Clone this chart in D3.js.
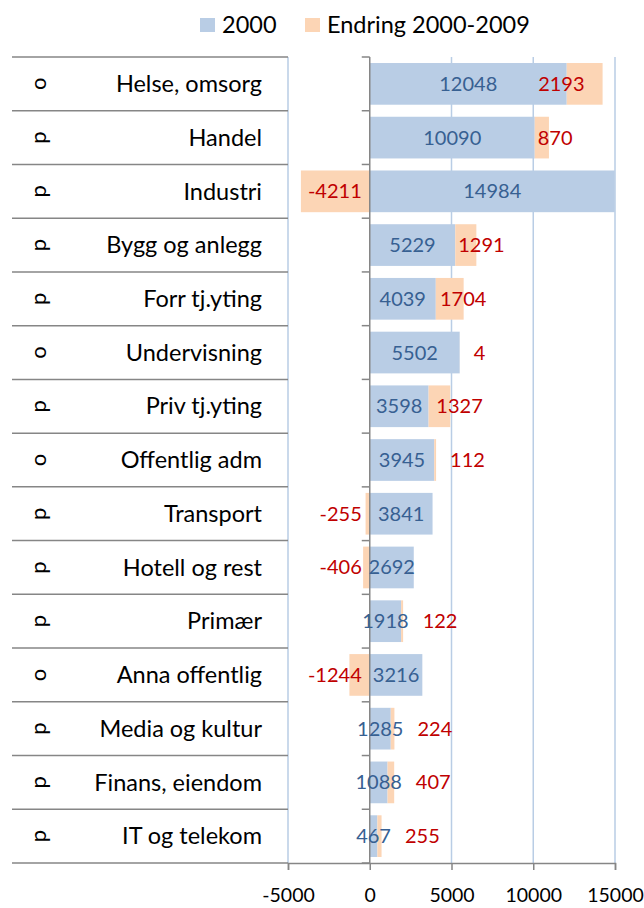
<!DOCTYPE html>
<html>
<head>
<meta charset="utf-8">
<script src="https://cdn.jsdelivr.net/npm/d3@7/dist/d3.min.js"></script>
<style>
  html, body { margin: 0; padding: 0; background: #fff; }
  svg { display: block; font-family: Lato, "Open Sans", sans-serif; }
</style>
</head>
<body>
<svg id="chart" width="644" height="908"></svg>
<script>
const categories = ["Helse, omsorg","Handel","Industri","Bygg og anlegg","Forr tj.yting","Undervisning","Priv tj.yting","Offentlig adm","Transport","Hotell og rest","Primær","Anna offentlig","Media og kultur","Finans, eiendom","IT og telekom"];
const sectors = ["o","p","p","p","p","o","p","o","p","p","p","o","p","p","p"];
const values2000 = [12048,10090,14984,5229,4039,5502,3598,3945,3841,2692,1918,3216,1285,1088,467];
const change = [2193,870,-4211,1291,1704,4,1327,112,-255,-406,122,-1244,224,407,255];
const xTicks = [-5000,0,5000,10000,15000];
const seriesNames = ["2000","Endring 2000-2009"];

const C_BLUE = "#b9cde5", C_ORANGE = "#fcd5b5", C_GRID = "#b9cde5", C_AXIS = "#868686";
const C_BLUE_TXT = "#376092", C_RED_TXT = "#c00000";

const svg = d3.select("#chart");
const plotTop = 57, plotBottom = 863, plotLeft = 288, plotRight = 615, tableLeft = 12;

const x = d3.scaleLinear().domain([-5000, 15000]).range([plotLeft, plotRight]);
const y = d3.scaleBand().domain(categories).range([plotTop, plotBottom]).paddingInner(0.224).paddingOuter(0.112);
const step = y.step();

// gridlines
svg.append("g").selectAll("line").data(xTicks.filter(d => d !== 0)).join("line")
  .attr("x1", d => x(d)).attr("x2", d => x(d))
  .attr("y1", plotTop).attr("y2", plotBottom)
  .attr("stroke", C_GRID).attr("stroke-width", 1.5);

const rows = categories.map((c, i) => ({c, s: sectors[i], v: values2000[i], d: change[i]}));

// bars
const bars = svg.append("g");
bars.selectAll("rect.b").data(rows).join("rect").attr("class", "b")
  .attr("x", d => x(0)).attr("width", d => x(d.v) - x(0))
  .attr("y", d => y(d.c)).attr("height", y.bandwidth()).attr("fill", C_BLUE);
bars.selectAll("rect.o").data(rows).join("rect").attr("class", "o")
  .attr("x", d => d.d >= 0 ? x(d.v) : x(d.d))
  .attr("width", d => d.d >= 0 ? x(d.v + d.d) - x(d.v) : x(0) - x(d.d))
  .attr("y", d => y(d.c)).attr("height", y.bandwidth()).attr("fill", C_ORANGE);

// zero axis + ticks
const boundaries = d3.range(categories.length + 1).map(i => plotTop + i * step);
svg.append("line").attr("x1", x(0)).attr("x2", x(0)).attr("y1", plotTop).attr("y2", plotBottom)
  .attr("stroke", C_AXIS).attr("stroke-width", 1.5);
svg.append("g").selectAll("line").data(boundaries).join("line")
  .attr("x1", x(0) - 8).attr("x2", x(0)).attr("y1", d => d).attr("y2", d => d)
  .attr("stroke", C_AXIS).attr("stroke-width", 1.5);

// table lines at left
svg.append("g").selectAll("line").data(boundaries).join("line")
  .attr("x1", tableLeft).attr("x2", plotLeft).attr("y1", d => d).attr("y2", d => d)
  .attr("stroke", C_AXIS).attr("stroke-width", 1.5);

// bottom axis
const xAxis = d3.axisBottom(x).tickValues(xTicks).tickSize(7).tickPadding(18).tickFormat(d => String(d));
const ax = svg.append("g").attr("transform", `translate(0,${plotBottom})`).call(xAxis);
ax.select(".domain").attr("stroke", C_AXIS).attr("stroke-width", 1.5);
ax.selectAll(".tick line").attr("stroke", C_AXIS).attr("stroke-width", 1.5);
ax.selectAll(".tick text").attr("fill", "#000").style("font-size", "19.5px").style("font-family", "Lato, sans-serif");

// category labels
svg.append("g").selectAll("text").data(rows).join("text")
  .attr("x", 262).attr("y", d => y(d.c) + y.bandwidth() / 2).attr("dy", "0.35em")
  .attr("text-anchor", "end").style("font-size", "23.5px").attr("fill", "#000").text(d => d.c);
svg.append("g").selectAll("text").data(rows).join("text")
  .attr("transform", d => `translate(38,${y(d.c) + y.bandwidth() / 2}) rotate(-90)`)
  .attr("dy", "0.35em").attr("text-anchor", "middle")
  .style("font-size", "22px").attr("fill", "#000").text(d => d.s);

// value labels (2000)
const fs = 20;
const blueLbl = svg.append("g").selectAll("text").data(rows).join("text")
  .attr("x", d => (x(0) + x(d.v)) / 2).attr("y", d => y(d.c) + y.bandwidth() / 2).attr("dy", "0.35em")
  .attr("text-anchor", "middle").style("font-size", fs + "px").attr("fill", C_BLUE_TXT).text(d => d.v);
const blueRight = [];
blueLbl.each(function(d, i) { const b = this.getBBox(); blueRight[i] = b.x + b.width; });

// change labels
svg.append("g").selectAll("text").data(rows).join("text")
  .attr("y", d => y(d.c) + y.bandwidth() / 2).attr("dy", "0.35em")
  .style("font-size", fs + "px").attr("fill", C_RED_TXT).text(d => d.d)
  .each(function(d, i) {
    const t = d3.select(this);
    if (d.d < 0) {
      t.attr("text-anchor", "end").attr("x", x(0) - 8);
    } else {
      const w = this.getComputedTextLength();
      let left = Math.max(x(d.v) + 3, blueRight[i] + 14);
      if (Math.abs(x(d.v + d.d) - x(d.v)) < 4) left = Math.max(left, x(d.v + d.d) + 14);
      if (left + w > plotRight - 20) left = x(d.v + d.d) - 18 - w;
      t.attr("text-anchor", "start").attr("x", left);
    }
  });

// legend
const legend = svg.append("g");
const legendItems = [{name: seriesNames[0], color: C_BLUE, x: 200}, {name: seriesNames[1], color: C_ORANGE, x: 305}];
legend.selectAll("rect").data(legendItems).join("rect")
  .attr("x", d => d.x).attr("y", 18).attr("width", 15).attr("height", 14).attr("fill", d => d.color);
legend.selectAll("text").data(legendItems).join("text")
  .attr("x", d => d.x + 22).attr("y", 25).attr("dy", "0.35em")
  .style("font-size", "23.5px").attr("fill", "#000").text(d => d.name);
</script>
</body>
</html>
